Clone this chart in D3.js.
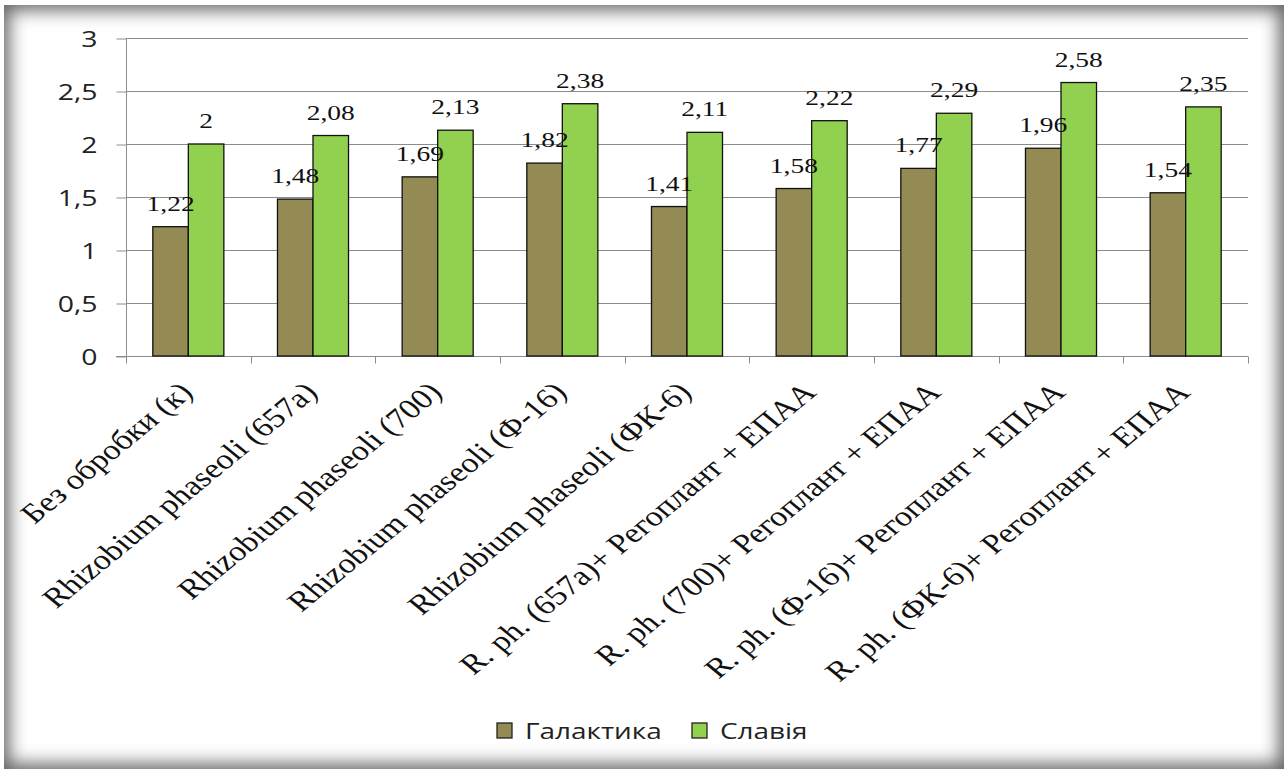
<!DOCTYPE html>
<html>
<head>
<meta charset="utf-8">
<script src="https://cdn.jsdelivr.net/npm/d3@7"></script>
<style>
  html, body { margin: 0; padding: 0; background: #fff; }
  #frame {
    position: absolute; left: 4px; top: 5px; width: 1280px; height: 764px;
    box-shadow: inset 0 0 18px 5px rgba(0,0,0,0.62);
    background: #fff;
  }
  svg { position: absolute; left: 0; top: 0; }
</style>
</head>
<body>
<div id="frame"></div>
<svg id="chart" width="1285" height="771"></svg>
<script>
const categories = [
  "Без обробки (к)",
  "Rhizobium phaseoli (657a)",
  "Rhizobium phaseoli (700)",
  "Rhizobium phaseoli (Ф-16)",
  "Rhizobium phaseoli (ФК-6)",
  "R. ph. (657a)+ Регоплант + ЕПАА",
  "R. ph. (700)+ Регоплант + ЕПАА",
  "R. ph. (Ф-16)+ Регоплант + ЕПАА",
  "R. ph. (ФК-6)+ Регоплант + ЕПАА"
];
const seriesNames = ["Галактика", "Славія"];
const galaktika = [1.22, 1.48, 1.69, 1.82, 1.41, 1.58, 1.77, 1.96, 1.54];
const slavia = [2, 2.08, 2.13, 2.38, 2.11, 2.22, 2.29, 2.58, 2.35];
const yTicks = [0, 0.5, 1, 1.5, 2, 2.5, 3];
const colors = ["#948A54", "#92D050"];

const series = [galaktika, slavia];
const locale = d3.formatLocale({ decimal: ",", thousands: " ", grouping: [3], currency: ["", ""] });
const fmt = v => locale.format("~g")(v);

const svg = d3.select("#chart");
const SX = 1.22; // horizontal text stretch

const x = d3.scaleBand().domain(categories).range([126, 1248]).paddingInner(0).paddingOuter(0);
const xs = d3.scaleBand().domain(seriesNames).range([0, x.bandwidth()]).paddingInner(0).paddingOuter(0.755);
const y = d3.scaleLinear().domain([0, 3]).range([356, 38]);

// horizontal gridlines
svg.append("g").selectAll("line").data(yTicks.filter(t => t > 0)).join("line")
  .attr("x1", 126).attr("x2", 1248)
  .attr("y1", d => y(d) + 0.5).attr("y2", d => y(d) + 0.5)
  .attr("stroke", "#8c8c8c").attr("stroke-width", 1);

// y axis
const yAxis = d3.axisLeft(y).tickValues(yTicks).tickSize(10).tickFormat(fmt);
const gy = svg.append("g").attr("transform", "translate(126.5,0.5)").call(yAxis);
gy.select(".domain").attr("stroke", "#8c8c8c").attr("d", "M0," + y(3) + "V" + y(0));
gy.selectAll(".tick line").attr("stroke", "#8c8c8c");
gy.selectAll(".tick text")
  .attr("x", 0).attr("dy", null)
  .attr("transform", "translate(-29,0) scale(1.35,1)")
  .attr("dominant-baseline", "central")
  .attr("font-family", "'Open Sans', sans-serif").attr("font-size", 21).attr("fill", "#222");

// x axis
const xAxis = d3.axisBottom(x).tickSize(0).tickFormat("");
const gx = svg.append("g").attr("transform", "translate(0," + (y(0) + 0.5) + ")").call(xAxis);
gx.select(".domain").attr("stroke", "#8c8c8c").attr("d", "M116,0H1248");
const boundaries = categories.map(c => x(c)).concat([x.range()[1]]);
gx.append("g").selectAll("line").data(boundaries).join("line")
  .attr("x1", d => Math.round(d) + 0.5).attr("x2", d => Math.round(d) + 0.5)
  .attr("y1", 0).attr("y2", 7).attr("stroke", "#8c8c8c");

// category labels
svg.append("g").selectAll("text").data(categories).join("text")
  .attr("transform", d => "translate(" + (x(d) + x.bandwidth() / 2 + 6) + "," + 394 + ") scale(" + SX + ",1) rotate(-45)")
  .attr("text-anchor", "end")
  .attr("font-family", "'Liberation Serif', 'Times New Roman', serif")
  .attr("font-size", 28).attr("fill", "#111")
  .text(d => d);

// bars
const groups = svg.append("g").selectAll("g").data(categories).join("g")
  .attr("transform", d => "translate(" + x(d) + ",0)");
groups.selectAll("rect").data((d, i) => seriesNames.map((s, k) => ({ s, v: series[k][i], k }))).join("rect")
  .attr("x", d => xs(d.s)).attr("width", xs.bandwidth())
  .attr("y", d => y(d.v)).attr("height", d => y(0) - y(d.v))
  .attr("fill", d => colors[d.k]).attr("stroke", "#111").attr("stroke-width", 1.3);

// value labels
groups.selectAll("text").data((d, i) => seriesNames.map((s, k) => ({ s, v: series[k][i], k }))).join("text")
  .attr("transform", d => "translate(" + (xs(d.s) + xs.bandwidth() / 2) + "," + (y(d.v) - 16) + ") scale(1.25,1)")
  .attr("text-anchor", "middle")
  .attr("font-family", "'Liberation Serif', 'Times New Roman', serif")
  .attr("font-size", 22).attr("fill", "#111")
  .text(d => fmt(d.v));

// legend
const legend = svg.append("g").attr("transform", "translate(497,723)");
const items = [{ name: seriesNames[0], dx: 0 }, { name: seriesNames[1], dx: 195 }];
items.forEach((it, k) => {
  const g = legend.append("g").attr("transform", "translate(" + it.dx + ",0)");
  g.append("rect").attr("width", 15).attr("height", 15)
    .attr("fill", colors[k]).attr("stroke", "#222").attr("stroke-width", 1.3);
  g.append("text").attr("transform", "translate(28,8) scale(1.33,1)")
    .attr("dominant-baseline", "central")
    .attr("font-family", "'Open Sans', sans-serif").attr("font-size", 21).attr("fill", "#222")
    .text(it.name);
});
</script>
</body>
</html>
